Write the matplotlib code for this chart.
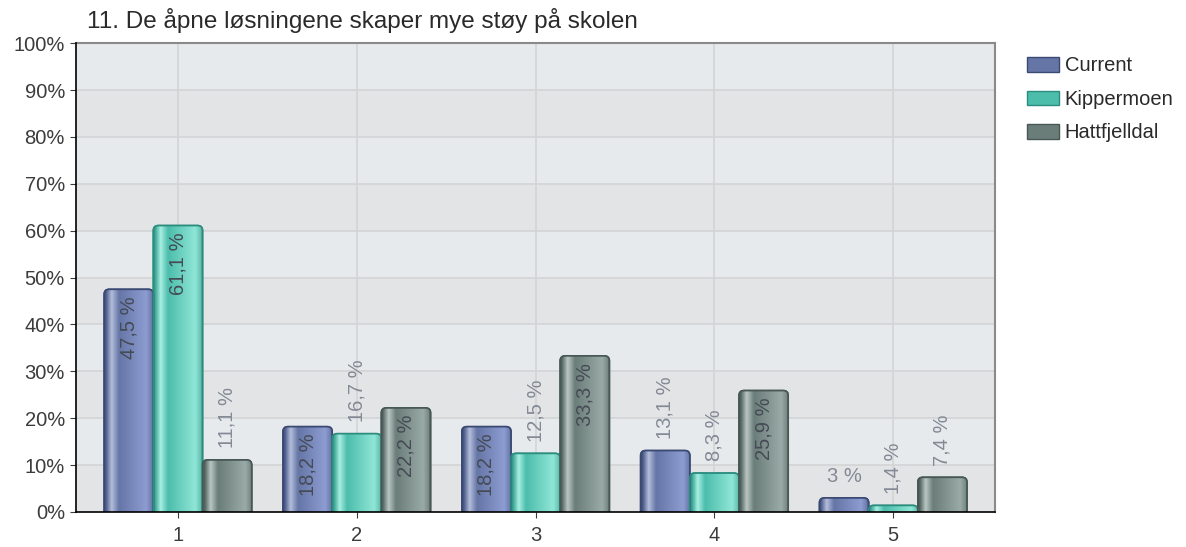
import matplotlib.pyplot as plt
import numpy as np
from matplotlib.colors import to_rgb
from matplotlib.patches import FancyBboxPatch

# question 11 - share of answers per score
categories = ['1', '2', '3', '4', '5']
series = ['Current', 'Kippermoen', 'Hattfjelldal']
current = [47.5, 18.2, 18.2, 13.1, 3.0]
kippermoen = [61.1, 16.7, 12.5, 8.3, 1.4]
hattfjelldal = [11.1, 22.2, 33.3, 25.9, 7.4]
labels_current = ['47,5 %', '18,2 %', '18,2 %', '13,1 %', '3 %']
labels_kippermoen = ['61,1 %', '16,7 %', '12,5 %', '8,3 %', '1,4 %']
labels_hattfjelldal = ['11,1 %', '22,2 %', '33,3 %', '25,9 %', '7,4 %']

title = '11. De åpne løsningene skaper mye støy på skolen'

# (dark edge, highlight, mid, right side)
palette = [('#3b4a73', '#b4bedb', '#6575a6', '#8d9dd2'),
           ('#2c8c7e', '#a8efe3', '#4cbdab', '#8fe6d7'),
           ('#475753', '#b9c7c3', '#6b7d79', '#9aaba7')]

plt.rcParams['font.family'] = ['Liberation Sans', 'DejaVu Sans']

fig = plt.figure(figsize=(11.86, 5.47), dpi=100)
ax = fig.add_axes([0.0641, 0.064, 0.775, 0.857])

x = np.arange(1, 6)
w = 0.275
xlim = (0.43, 5.57)
ylim = (0, 100)

# background bands
for i in range(10):
    ax.axhspan(i * 10, i * 10 + 10, color='#e7eaed' if i % 2 else '#e3e4e6', zorder=0, lw=0)
for yy in range(10, 100, 10):
    ax.axhline(yy, color='#d3d4d6', lw=1.2, zorder=1)
for xx in x:
    ax.axvline(xx, color='#d3d4d6', lw=1.2, zorder=1)


def gradient(cols):
    edge, hi, mid, right = [np.array(to_rgb(c)) for c in cols]
    stops = [0.0, 0.04, 0.15, 0.3, 0.85, 0.96, 1.0]
    colors = [edge, edge * 0.5 + mid * 0.5, hi, mid, right, right * 0.6 + edge * 0.4, edge]
    t = np.linspace(0, 1, 100)
    out = np.zeros((1, 100, 3))
    for k in range(3):
        out[0, :, k] = np.interp(t, stops, [c[k] for c in colors])
    return out


# corner radius: ~5 px horizontally, same on screen vertically
rad = 0.028
asp = (5.14 / 919) ** -1 * (100 / 468) * 1.0

data = [current, kippermoen, hattfjelldal]
labs = [labels_current, labels_kippermoen, labels_hattfjelldal]
for s in range(3):
    pos = x + (s - 1) * w
    bars = ax.bar(pos, data[s], width=w, color=palette[s][2], edgecolor=palette[s][0],
                  linewidth=1, zorder=3, label=series[s])
    grad = gradient(palette[s])
    for r in bars:
        r.set_visible(False)
        box = FancyBboxPatch((r.get_x(), -3), r.get_width(), r.get_height() + 3,
                             boxstyle='round,pad=0,rounding_size=%f' % rad,
                             mutation_aspect=asp, facecolor=palette[s][2],
                             edgecolor=palette[s][0], linewidth=1.2, zorder=3)
        ax.add_patch(box)
        im = ax.imshow(grad, extent=[r.get_x(), r.get_x() + r.get_width(), -3, r.get_height()],
                       aspect='auto', zorder=3.5, interpolation='bilinear')
        im.set_clip_path(box)
        edge = FancyBboxPatch((r.get_x(), -3), r.get_width(), r.get_height() + 3,
                              boxstyle='round,pad=0,rounding_size=%f' % rad,
                              mutation_aspect=asp, fill=False,
                              edgecolor=palette[s][0], linewidth=1.2, zorder=4)
        ax.add_patch(edge)
    for p, v, t in zip(pos, data[s], labs[s]):
        if v >= 17:
            ax.text(p, v - 1.5, t, rotation=90, ha='center', va='top', fontsize=14.5,
                    color='#454b55', zorder=5)
        elif len(t) <= 3:
            ax.text(p, v + 2.5, t, ha='center', va='bottom', fontsize=14.5,
                    color='#838a95', zorder=5)
        else:
            ax.text(p, v + 2.5, t, rotation=90, ha='center', va='bottom', fontsize=14.5,
                    color='#838a95', zorder=5)

ax.set_xlim(xlim)
ax.set_ylim(ylim)
ax.set_xticks(x)
ax.set_xticklabels(categories)
ax.set_yticks(range(0, 101, 10))
ax.set_yticklabels(['%d%%' % v for v in range(0, 101, 10)])
ax.tick_params(labelsize=14.5, colors='#3c3c3c', length=4)
ax.tick_params(axis='x', pad=6)
ax.tick_params(axis='y', pad=4)
for side in ['left', 'bottom']:
    ax.spines[side].set_color('black')
    ax.spines[side].set_linewidth(1.2)
    ax.spines[side].set_zorder(6)
for side in ['top', 'right']:
    ax.spines[side].set_color('#8a8a8a')
    ax.spines[side].set_linewidth(1.5)

fig.text(0.0735, 0.94, title, fontsize=17.5, color='#2a2a2a', va='bottom')

handles, hl = ax.get_legend_handles_labels()
leg = fig.legend(handles, hl, loc='upper left', bbox_to_anchor=(0.851, 0.93), frameon=False,
                 fontsize=14.5, handlelength=1.55, handleheight=0.75, labelspacing=0.72,
                 handletextpad=0.3)
for h in leg.legend_handles:
    h.set_visible(True)
for t in leg.get_texts():
    t.set_color('#2a2a2a')

fig.savefig('out.png', dpi=100)
